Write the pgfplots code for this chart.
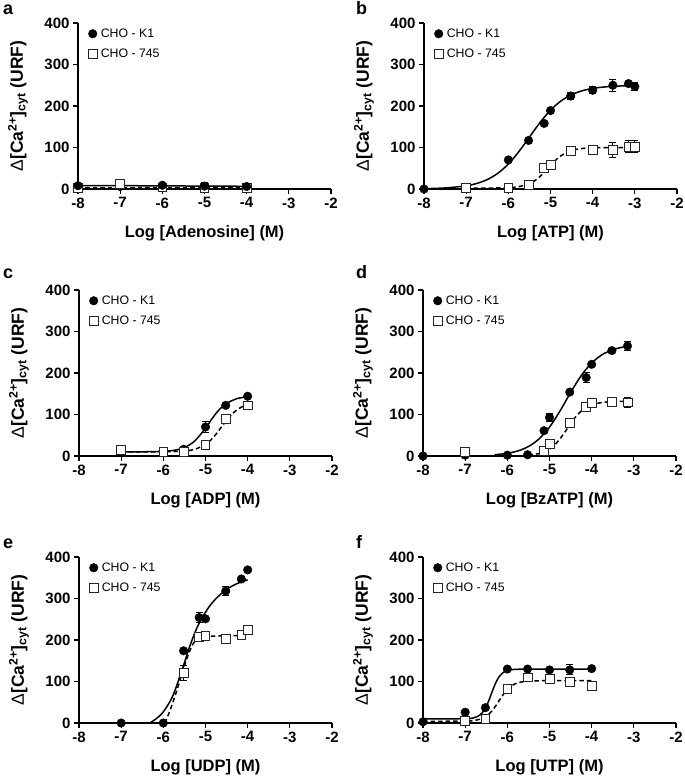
\documentclass[border=0pt]{standalone}
\usepackage{fontspec}
\setmainfont{Liberation Sans}
\usepackage{pgfplots}
\pgfplotsset{compat=1.18}
\pgfplotsset{
  panel/.style={
    width=253pt, height=166pt, scale only axis,
    anchor=south west,
    xmin=-8, xmax=-2, ymin=0, ymax=400,
    xtick={-8,-7,-6,-5,-4,-3,-2}, ytick={0,100,200,300,400},
    axis x line*=bottom, axis y line*=left,
    axis line style={line width=1.6pt},
    tick align=outside, major tick length=5pt,
    tick style={line width=1.3pt, black},
    clip=false,
    /pgf/number format/assume math mode=true,
    tick label style={font=\bfseries\fontsize{15}{16}\selectfont},
    label style={font=\bfseries\fontsize{16.5}{18}\selectfont},
    ylabel={{\mdseries Δ}[Ca\textsuperscript{2+}]\textsubscript{cyt} (URF)},
    ylabel style={font=\bfseries\fontsize{17.5}{19}\selectfont},
    xlabel style={at={(axis description cs:0.5,-0.265)}, anchor=center},
    ylabel style={at={(axis description cs:-0.237,0.5)}, anchor=center},
    legend style={at={(axis description cs:0.04,0.98)}, anchor=north west,
      draw=none, fill=none, font=\fontsize{12.3}{14}\selectfont, row sep=5.5pt, column sep=1.5pt, inner sep=0pt,
      nodes={inner sep=2.2pt}},
    legend cell align=left,
    legend image code/.code={\draw[##1] plot coordinates {(0.12cm,0cm)};},
  },
  k1/.style={only marks, mark=*, mark size=4.3pt, black, mark options={fill=black, draw=black},
    error bars/.cd, y dir=both, y explicit,
    error bar style={line width=1pt, black},
    error mark options={rotate=90, mark size=3.5pt, line width=1pt, black}},
  ch/.style={only marks, mark=square*, mark size=4.4pt, black, mark options={fill=white, draw=black!85, line width=0.8pt},
    error bars/.cd, y dir=both, y explicit,
    error bar style={line width=1pt, black},
    error mark options={rotate=90, mark size=3.5pt, line width=1pt, black}},
  fit/.style={black, line width=1.5pt, no markers, forget plot, smooth},
  fitd/.style={fit, dash pattern=on 4.5pt off 3pt},
}
\begin{document}
\begin{tikzpicture}
\useasboundingbox (0,0) rectangle (685pt,780pt);
\fill[white] (0,0) rectangle (685pt,780pt);
\node[anchor=base west, font=\bfseries\fontsize{18}{20}\selectfont, inner sep=0pt] at (3pt,765pt) {a};
\node[anchor=base west, font=\bfseries\fontsize{18}{20}\selectfont, inner sep=0pt] at (356pt,765pt) {b};
\node[anchor=base west, font=\bfseries\fontsize{18}{20}\selectfont, inner sep=0pt] at (3pt,501pt) {c};
\node[anchor=base west, font=\bfseries\fontsize{18}{20}\selectfont, inner sep=0pt] at (356pt,501pt) {d};
\node[anchor=base west, font=\bfseries\fontsize{18}{20}\selectfont, inner sep=0pt] at (3pt,231pt) {e};
\node[anchor=base west, font=\bfseries\fontsize{18}{20}\selectfont, inner sep=0pt] at (356pt,231pt) {f};

% ---------------- a
\begin{axis}[panel, at={(78pt,591pt)}, xlabel={Log [Adenosine] (M)}]
\addplot[fit] coordinates {(-8,8) (-7,8) (-6,7.5) (-5,7) (-4,6.5)};
\addplot[fitd] coordinates {(-8,4) (-4,4)};
\addlegendimage{only marks, mark=*, mark size=4.3pt, black, mark options={fill=black, draw=black}}
\addlegendentry{CHO - K1}
\addlegendimage{only marks, mark=square*, mark size=4.4pt, black, mark options={fill=white, draw=black!85, line width=0.8pt}}
\addlegendentry{CHO - 745}
\addplot[forget plot, ch] table[x=x,y=y,y error=e] {
x y e
-8 3 1
-6 4 1
-5 3 1
-4 3 1
};
\addplot[forget plot, k1] table[x=x,y=y,y error=e] {
x y e
-8 8 0
-7 6 3
-6 9 3
-5 7 8
-4 6 3
};
\addplot[forget plot, ch] table[x=x,y=y,y error=e] {
x y e
-7 12 2
};
\end{axis}

% ---------------- b
\begin{axis}[panel, at={(424pt,591pt)}, xlabel={Log [ATP] (M)}]
\addplot[fit] coordinates {(-8,0.8) (-7.5,2.5) (-7,7.7) (-6.75,13.3) (-6.5,22.7) (-6.25,37.8) (-6,60.1) (-5.75,90) (-5.5,125) (-5.25,160) (-5,190) (-4.75,212.2) (-4.5,227.3) (-4.25,236.7) (-4,242.3) (-3.75,245.6) (-3.5,247.5) (-3.25,248.6) (-3,249.2)};
\addplot[fitd] coordinates {(-7,2) (-6.5,2.1) (-6,3.2) (-5.75,5.8) (-5.5,13) (-5.375,19.9) (-5.25,30) (-5.125,42.6) (-5,56.6) (-4.875,69.7) (-4.75,80.3) (-4.5,92.8) (-4.25,97.6) (-4,99.2) (-3.5,99.9) (-3,100)};
\addplot[k1] table[x=x,y=y,y error=e] {
x y e
-8 0 0
-7 2 2
-6 70 6
-5.52 117 7
-5.15 158 5
-5 189 5
-4.52 224 8
-4 238 9
-3.52 250 15
-3.15 254 5
-3 247 10
};
\addlegendentry{CHO - K1}
\addplot[ch] table[x=x,y=y,y error=e] {
x y e
-7 3 2
-6 3 2
-5.52 9 3
-5.15 51 6
-5 58 6
-4.52 91 5
-4 95 5
-3.52 94 18
-3.15 102 14
-3 102 15
};
\addlegendentry{CHO - 745}
\end{axis}

% ---------------- c
\begin{axis}[panel, at={(79pt,324pt)}, xlabel={Log [ADP] (M)}]
\addplot[fit] coordinates {(-7,10) (-6.5,10.1) (-6,11.3) (-5.75,13.6) (-5.5,20.3) (-5.25,36.7) (-5,67) (-4.875,85.6) (-4.75,102.8) (-4.625,116.9) (-4.5,127) (-4.25,138.4) (-4,142.7)};
\addplot[fitd] coordinates {(-7,10) (-6,10.2) (-5.5,12) (-5.25,16.3) (-5,27.8) (-4.875,38.3) (-4.75,52.6) (-4.625,69.4) (-4.5,86) (-4.375,100.6) (-4.25,111.5) (-4.125,118.9) (-4,123.5)};
\addplot[k1] table[x=x,y=y,y error=e] {
x y e
-7 11 4
-6 9 3
-5.52 16 3
-5 70 14
-4.52 122 4
-4 144 3
};
\addlegendentry{CHO - K1}
\addplot[ch] table[x=x,y=y,y error=e] {
x y e
-7 14 3
-6 10 2
-5.52 10 2
-5 26 3
-4.52 89 4
-4 122 4
};
\addlegendentry{CHO - 745}
\end{axis}

% ---------------- d
\begin{axis}[panel, at={(423pt,324pt)}, xlabel={Log [BzATP] (M)}]
\addplot[fit] coordinates {(-6.3,3) (-6,6.5) (-5.75,12.3) (-5.5,22.8) (-5.25,41) (-5,69.5) (-4.75,108.5) (-4.5,152.8) (-4.25,193.4) (-4,224.2) (-3.75,244.3) (-3.5,256.1) (-3.25,262.6) (-3.15,264.3)};
\addplot[fitd] coordinates {(-5.5,1.9) (-5.25,5.8) (-5.13,9.7) (-5,16.7) (-4.875,27) (-4.75,41.4) (-4.625,59.2) (-4.5,78) (-4.375,95) (-4.25,108) (-4.13,117) (-4,123.5) (-3.75,129) (-3.5,131) (-3.15,132)};
\addplot[k1] table[x=x,y=y,y error=e] {
x y e
-8 0 0
-7 2 1
-6 2 1
-5.52 3 2
-5.13 61 4
-5 93 10
-4.52 154 5
-4.13 189 12
-4 221 5
-3.52 254 5
-3.15 265 10
};
\addlegendentry{CHO - K1}
\addplot[ch] table[x=x,y=y,y error=e] {
x y e
-7 10 2
-5.13 13 3
-5 29 4
-4.52 79 5
-4.13 118 5
-4 128 4
-3.52 130 4
-3.15 129 12
};
\addlegendentry{CHO - 745}
\end{axis}

% ---------------- e
\begin{axis}[panel, at={(79pt,57pt)}, xlabel={Log [UDP] (M)}]
\addplot[fit] coordinates {(-6.32,0) (-6.2,8) (-6.1,16) (-6,27) (-5.9,42) (-5.8,60) (-5.7,85) (-5.6,115) (-5.5,145) (-5.4,177) (-5.3,205) (-5.2,230) (-5.1,250) (-5,267) (-4.9,282) (-4.75,300) (-4.5,322) (-4.25,336) (-4,345)};
\addplot[fitd] coordinates {(-5.97,0) (-5.9,15) (-5.8,42) (-5.7,72) (-5.6,105) (-5.5,138) (-5.4,167) (-5.3,190) (-5.2,203) (-5.1,208) (-5,209) (-4.5,210) (-4,211)};
\addplot[k1] table[x=x,y=y,y error=e] {
x y e
-7 0 2
-6 0 3
-5.52 174 4
-5.15 254 12
-5 251 4
-4.52 318 10
-4.15 347 4
-4 369 4
};
\addlegendentry{CHO - K1}
\addplot[ch] table[x=x,y=y,y error=e] {
x y e
-5.52 120 18
-5.15 207 5
-5 210 5
-4.52 203 8
-4.15 213 10
-4 224 4
};
\addlegendentry{CHO - 745}
\end{axis}

% ---------------- f
\begin{axis}[panel, at={(423pt,57pt)}, xlabel={Log [UTP] (M)}]
\addplot[fit] coordinates {(-8,10) (-7,10.4) (-6.8,12.4) (-6.7,16) (-6.6,24) (-6.5,40) (-6.45,51.3) (-6.4,64.5) (-6.35,78.2) (-6.3,91) (-6.25,102.2) (-6.2,110.8) (-6.1,121.5) (-6,126.5) (-5.9,128.6) (-5.5,130) (-4,130)};
\addplot[fitd] coordinates {(-8,4) (-7,4.6) (-6.75,6.7) (-6.6,10.9) (-6.5,16.4) (-6.4,25.2) (-6.3,37.7) (-6.2,53) (-6.1,68.3) (-6,80.9) (-5.9,89.6) (-5.75,96.9) (-5.5,101) (-5,102) (-4,102)};
\addplot[k1] table[x=x,y=y,y error=e] {
x y e
-8 3 2
-7 26 3
-6.52 37 3
-6 130 3
-5.52 130 3
-5 128 3
-4.52 128 12
-4 131 3
};
\addlegendentry{CHO - K1}
\addplot[ch] table[x=x,y=y,y error=e] {
x y e
-7 5 2
-6.52 10 3
-6 83 4
-5.52 110 4
-5 106 5
-4.52 100 10
-4 90 10
};
\addlegendentry{CHO - 745}
\end{axis}
\end{tikzpicture}
\end{document}
